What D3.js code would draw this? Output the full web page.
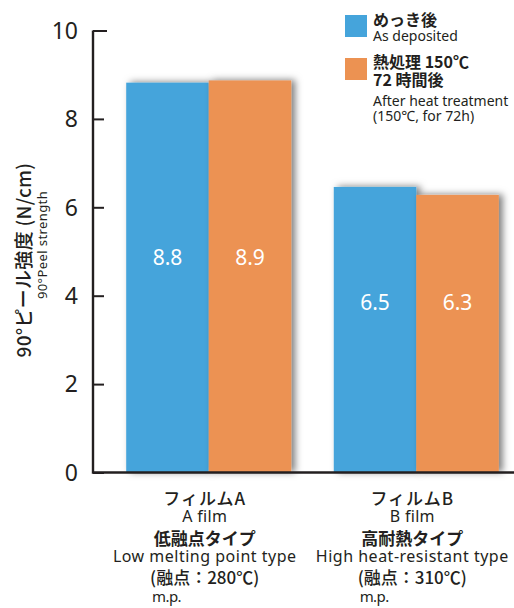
<!DOCTYPE html>
<html>
<head>
<meta charset="utf-8">
<script src="https://cdn.jsdelivr.net/npm/d3@7"></script>
<style>
  body { margin: 0; background: #fff; }
  text { fill: #231f20; }
</style>
</head>
<body>
<script>
// data
let groups = ["A", "B"];
let seriesKeys = ["deposited", "heat"];
let asDeposited = [8.82, 6.46];
let afterHeat = [8.87, 6.28];
let valueLabels = [["8.8", "8.9"], ["6.5", "6.3"]];
let labelLevel = [4.85, 3.85]; // where the value text sits, in axis units
let yTicks = [0, 2, 4, 6, 8, 10];
let catLabels = [
  ["フィルムA", "A film", "低融点タイプ", "Low melting point type", "(融点：280℃)", "m.p."],
  ["フィルムB", "B film", "高耐熱タイプ", "High heat-resistant type", "(融点：310℃)", "m.p."]
];

let width = 514, height = 608;
let colors = { deposited: "#45a4db", heat: "#ec9252" };
let jp = "'Noto Sans CJK JP', 'Noto Sans', sans-serif";
let latin = "'Noto Sans', sans-serif";

let svg = d3.select("body").append("svg")
  .attr("width", width)
  .attr("height", height);

let defs = svg.append("defs");
defs.append("filter")
  .attr("id", "shadow")
  .attr("x", "-20%").attr("y", "-10%")
  .attr("width", "150%").attr("height", "120%")
  .append("feDropShadow")
  .attr("dx", 4).attr("dy", -0.5)
  .attr("stdDeviation", 3.5)
  .attr("flood-color", "#000")
  .attr("flood-opacity", 0.5);

let y = d3.scaleLinear().domain([0, 10]).range([472.5, 30.5]);
let x = d3.scaleBand().domain(groups).range([93, 532])
  .paddingInner(0.205).paddingOuter(0.16);
let xs = d3.scaleBand().domain(seriesKeys).range([0, x.bandwidth()]);

let rows = groups.map(function(g, i) {
  return { group: g, i: i, values: [
    { key: "deposited", value: asDeposited[i], label: valueLabels[i][0] },
    { key: "heat", value: afterHeat[i], label: valueLabels[i][1] }
  ]};
});

// bars
let gGroups = svg.selectAll(".grp")
  .data(rows)
  .enter().append("g")
  .attr("class", "grp")
  .attr("transform", function(d) { return "translate(" + x(d.group) + ",0)"; });

gGroups.selectAll("rect")
  .data(function(d) { return d.values; })
  .enter().append("rect")
  .attr("x", function(d) { return xs(d.key); })
  .attr("y", function(d) { return y(d.value); })
  .attr("width", xs.bandwidth())
  .attr("height", function(d) { return y(0) - y(d.value); })
  .attr("fill", function(d) { return colors[d.key]; })
  .attr("filter", "url(#shadow)");

gGroups.each(function(row) {
  d3.select(this).selectAll(".vlabel")
    .data(row.values)
    .enter().append("text")
    .attr("class", "vlabel")
    .attr("x", function(d) { return xs(d.key) + xs.bandwidth() / 2; })
    .attr("y", y(labelLevel[row.i]))
    .attr("dy", "0.35em")
    .attr("text-anchor", "middle")
    .style("fill", "#fff")
    .style("font-family", latin)
    .style("font-size", "21px")
    .text(function(d) { return d.label; });
});

// y axis
let yAxis = d3.axisRight(y).tickValues(yTicks).tickSize(11).tickFormat("");
let ga = svg.append("g")
  .attr("transform", "translate(93,0)")
  .call(yAxis);
ga.select(".domain").remove();
ga.selectAll(".tick line").attr("stroke", "#231f20").attr("stroke-width", 2);
ga.selectAll(".tick").filter(function(d) { return d === 10; })
  .select("line").attr("x2", 14);

svg.append("path")
  .attr("d", "M93," + y(10) + "V" + y(0) + "H" + width)
  .attr("fill", "none")
  .attr("stroke", "#231f20")
  .attr("stroke-width", 2.4);

svg.selectAll(".ytick")
  .data(yTicks)
  .enter().append("text")
  .attr("class", "ytick")
  .attr("x", 78)
  .attr("y", function(d) { return y(d); })
  .attr("dy", "0.36em")
  .attr("text-anchor", "end")
  .style("font-family", latin)
  .style("font-size", "23px")
  .text(function(d) { return d; });

// y axis title
svg.append("text")
  .attr("transform", "translate(31,260) rotate(-90)")
  .attr("text-anchor", "middle")
  .style("font-family", jp)
  .style("font-size", "19px")
  .style("font-weight", "500")
  .style("letter-spacing", "0.3px")
  .text("90°ピール強度 (N/cm)");
svg.append("text")
  .attr("transform", "translate(47,245) rotate(-90)")
  .attr("text-anchor", "middle")
  .style("font-family", latin)
  .style("font-size", "13px")
  .style("letter-spacing", "0.4px")
  .text("90°Peel strength");

// category labels
let catStyle = [
  { base: 505, size: 17, weight: 500, font: jp, ls: 1 },
  { base: 521.5, size: 16, weight: 400, font: latin, ls: 0.3 },
  { base: 545, size: 17, weight: 700, font: jp, ls: 0 },
  { base: 561.5, size: 16, weight: 400, font: latin, ls: 0.5 },
  { base: 583.5, size: 17, weight: 500, font: jp, ls: 0 },
  { base: 602, size: 15, weight: 400, font: latin, ls: -0.6 }
];
rows.forEach(function(row) {
  let cx = x(row.group) + x.bandwidth() / 2 - 4;
  let texts = svg.selectAll(".cat" + row.i)
    .data(catLabels[row.i])
    .enter().append("text")
    .attr("class", "cat" + row.i)
    .attr("x", cx)
    .attr("y", function(d, j) { return catStyle[j].base; })
    .attr("text-anchor", "middle")
    .style("font-family", function(d, j) { return catStyle[j].font; })
    .style("font-size", function(d, j) { return catStyle[j].size + "px"; })
    .style("font-weight", function(d, j) { return catStyle[j].weight; })
    .style("letter-spacing", function(d, j) { return catStyle[j].ls + "px"; })
    .text(function(d) { return d; });
  // m.p. sits under the start of the melting point line
  let mp = texts.nodes()[4].getBBox();
  texts.filter(function(d, j) { return j === 5; })
    .attr("x", mp.x + 2)
    .attr("text-anchor", "start");
});

// legend
let legend = [
  { key: "deposited", top: 15, lines: [["めっき後", 1, 11], ["As deposited", 0, 26]] },
  { key: "heat", top: 58, lines: [["熱処理 150℃", 1, 10], ["72 時間後", 1, 28], ["After heat treatment", 0, 48], ["(150℃, for 72h)", 0, 63]] }
];
let lg = svg.selectAll(".leg")
  .data(legend)
  .enter().append("g")
  .attr("class", "leg")
  .attr("transform", function(d) { return "translate(345," + d.top + ")"; });
lg.append("rect")
  .attr("width", 22).attr("height", 22)
  .attr("fill", function(d) { return colors[d.key]; });
lg.each(function(d) {
  d3.select(this).selectAll("text")
    .data(d.lines)
    .enter().append("text")
    .attr("x", 28)
    .attr("y", function(l) { return l[2]; })
    .style("font-family", function(l) { return l[1] ? jp : latin; })
    .style("font-size", function(l) { return l[1] ? "16px" : "14px"; })
    .style("font-weight", function(l) { return l[1] ? 700 : 400; })
    .text(function(l) { return l[0]; });
});
</script>
</body>
</html>
